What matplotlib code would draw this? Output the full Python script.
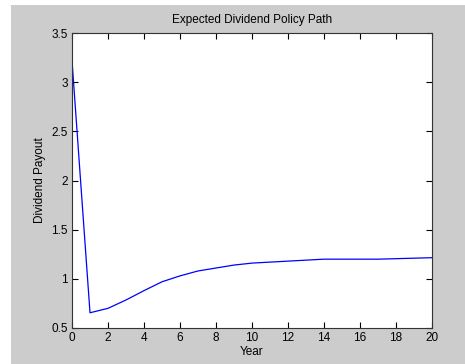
import matplotlib
matplotlib.use("Agg")
import matplotlib.pyplot as plt
from matplotlib.patches import Rectangle

years = list(range(21))
payout = [3.22, 0.655, 0.70, 0.785, 0.88, 0.97, 1.03, 1.08, 1.11, 1.14,
          1.16, 1.17, 1.18, 1.19, 1.20, 1.20, 1.20, 1.20, 1.205, 1.21, 1.215]

x_ticks = list(range(0, 21, 2))
y_ticks = [0.5, 1, 1.5, 2, 2.5, 3, 3.5]
y_tick_labels = ["0.5", "1", "1.5", "2", "2.5", "3", "3.5"]

plt.rcParams["font.family"] = ["Liberation Sans", "DejaVu Sans"]

fig = plt.figure(figsize=(4.65, 3.64), dpi=100, facecolor="white")
# grey MATLAB-style figure area with a thin white margin top/left
fig.patches.append(Rectangle((11 / 465, 0), 1 - 11 / 465, 359 / 364,
                             transform=fig.transFigure, facecolor="#cccccc",
                             edgecolor="none", zorder=-10))

ax = fig.add_axes([72 / 465, 1 - 328 / 364, 360 / 465, 295 / 364])
ax.set_facecolor("white")
ax.plot(years, payout, color="#0000ff", linewidth=0.9)

ax.set_xlim(0, 20)
ax.set_ylim(0.5, 3.5)
ax.set_xticks(x_ticks)
ax.set_yticks(y_ticks)
ax.set_yticklabels(y_tick_labels)
ax.tick_params(direction="in", top=True, right=True, length=4, width=0.8,
               labelsize=8.5, pad=3, colors="black")
for s in ax.spines.values():
    s.set_linewidth(0.8)
    s.set_color("#333333")

ax.set_title("Expected Dividend Policy Path", fontsize=8.5, pad=7)
ax.set_xlabel("Year", fontsize=8.5, labelpad=1)
ax.set_ylabel("Dividend Payout", fontsize=8.5, labelpad=4)

fig.savefig("out.png", dpi=100, facecolor=fig.get_facecolor())
